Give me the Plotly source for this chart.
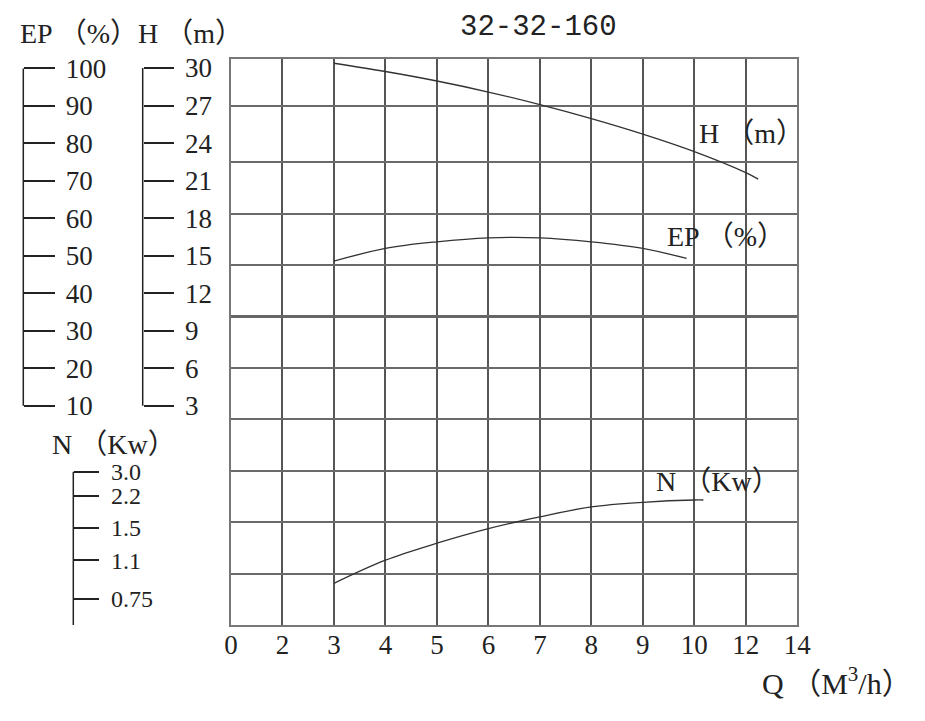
import numpy as np
import plotly.graph_objects as go

# ---------------- data ----------------
q_ticks = [0, 2, 3, 4, 5, 6, 7, 8, 9, 10, 12, 14]
q_tick_text = [str(v) for v in q_ticks]

h_ticks = [3, 6, 9, 12, 15, 18, 21, 24, 27, 30]
ep_ticks = [10, 20, 30, 40, 50, 60, 70, 80, 90, 100]
n_scale_kw = [0.75, 1.1, 1.5, 2.2, 3.0]
n_tick_text = ["0.75", "1.1", "1.5", "2.2", "3.0"]
n_scale_rows = [0.51, 1.26, 1.89, 2.51, 2.98]   # where each kW mark sits on the grid rows

q_h = [3, 4, 5, 6, 7, 8, 9, 10, 12, 12.48]
h_m = [30.38, 29.72, 28.96, 28.08, 27.08, 25.96, 24.72, 23.32, 21.64, 21.12]

q_ep = [3, 4, 5, 6, 7, 8, 9, 9.85]
ep_pct = [48.6, 52.0, 53.75, 54.8, 54.8, 53.75, 52.0, 49.3]

q_n = [3, 4, 5, 6, 7, 8, 9, 10, 10.35]
n_kw = [0.89, 1.10, 1.31, 1.49, 1.74, 1.96, 2.06, 2.11, 2.11]

# ---------------- helpers ----------------
W, H = 925, 721
def qpos(q):
    return np.interp(q, q_ticks, np.arange(len(q_ticks)))
def nrow(v):
    return np.interp(v, n_scale_kw, n_scale_rows)
def px(x):
    return x / W
def py(y):
    return 1 - y / H

SERIF = "Liberation Serif, Noto Sans CJK SC, serif"
MONO = "Liberation Mono, monospace"
INK = "#222222"
CURVE = "#333333"

fig = go.Figure()
fig.add_trace(go.Scatter(x=qpos(q_h), y=h_m, yaxis="y2", mode="lines",
                         line=dict(color=CURVE, width=1.3, shape="spline"),
                         showlegend=False, hoverinfo="skip"))
fig.add_trace(go.Scatter(x=qpos(q_ep), y=ep_pct, yaxis="y3", mode="lines",
                         line=dict(color=CURVE, width=1.3, shape="spline"),
                         showlegend=False, hoverinfo="skip"))
fig.add_trace(go.Scatter(x=qpos(q_n), y=nrow(n_kw), yaxis="y4", mode="lines",
                         line=dict(color=CURVE, width=1.3, shape="spline"),
                         showlegend=False, hoverinfo="skip"))

x0, x1 = px(231), px(797.3)
y0, y1 = py(625), py(59.3)

layout = dict(
    width=W, height=H,
    margin=dict(l=0, r=0, t=0, b=0, autoexpand=False),
    paper_bgcolor="white", plot_bgcolor="white",
    showlegend=False,
    font=dict(family=SERIF, color=INK, size=27),
    xaxis=dict(domain=[x0, x1], range=[0, len(q_ticks) - 1],
               tickmode="array", tickvals=list(range(len(q_ticks))), ticktext=q_tick_text,
               showgrid=True, gridcolor="#555555", gridwidth=1.5,
               showline=True, mirror=True, linecolor="#777777", linewidth=2,
               zeroline=False, ticks="", ticklabelstandoff=-5,
               tickfont=dict(family=SERIF, size=27, color=INK), fixedrange=True),
    yaxis=dict(domain=[y0, y1], range=[0, 11],
               tickmode="array", tickvals=[1, 2, 3, 4, 5, 6, 7, 8, 9, 10.1],
               showticklabels=False, ticks="",
               showgrid=True, gridcolor="#6a6a6a", gridwidth=1.6,
               showline=True, mirror=True, linecolor="#777777", linewidth=2,
               zeroline=False, fixedrange=True),
    yaxis2=dict(overlaying="y", anchor="free", position=px(142.7), side="right",
                range=[-14.534, 30.696], tickmode="array", tickvals=h_ticks,
                ticks="outside", ticklen=30, tickwidth=1.5, tickcolor=INK,
                showgrid=False, zeroline=False, showline=False,
                ticklabelstandoff=6, tickfont=dict(family=SERIF, size=27, color=INK),
                fixedrange=True),
    yaxis3=dict(overlaying="y", anchor="free", position=px(23.3), side="right",
                range=[-48.5, 102.45], tickmode="array", tickvals=ep_ticks,
                ticks="outside", ticklen=31, tickwidth=1.5, tickcolor=INK,
                showgrid=False, zeroline=False, showline=False,
                ticklabelstandoff=5, tickfont=dict(family=SERIF, size=27, color=INK),
                fixedrange=True),
    yaxis4=dict(overlaying="y", anchor="free", position=px(73.3), side="right",
                range=[0, 11], tickmode="array", tickvals=n_scale_rows, ticktext=n_tick_text,
                ticks="outside", ticklen=25, tickwidth=1.5, tickcolor=INK,
                showgrid=False, zeroline=False, showline=False,
                ticklabelstandoff=7, tickfont=dict(family=SERIF, size=24, color=INK),
                fixedrange=True),
)
fig.update_layout(**layout)

# scale spines and the heavy mid line
shapes = [
    dict(type="line", xref="paper", yref="y2", x0=px(142.7), x1=px(142.7),
         y0=min(h_ticks), y1=max(h_ticks), line=dict(color=INK, width=1.5)),
    dict(type="line", xref="paper", yref="y3", x0=px(23.3), x1=px(23.3),
         y0=min(ep_ticks), y1=max(ep_ticks), line=dict(color=INK, width=1.5)),
    dict(type="line", xref="paper", yref="y4", x0=px(73.3), x1=px(73.3),
         y0=0, y1=max(n_scale_rows), line=dict(color=INK, width=1.5)),
    dict(type="line", xref="x domain", yref="y", x0=0, x1=1, y0=6, y1=6,
         line=dict(color="#666666", width=3)),
]
fig.update_layout(shapes=shapes)

def label(text, x, y, size=27, anchor="left", family=SERIF):
    return dict(text=text, xref="paper", yref="paper", x=px(x), y=py(y),
                xanchor=anchor, yanchor="middle", showarrow=False,
                font=dict(family=family, size=size, color=INK))

fig.update_layout(annotations=[
    label("32-32-160", 538, 28, size=29, anchor="center", family=MONO),
    label("EP （%）H （m）", 18, 34, size=28),
    label("N （Kw）", 50, 445, size=28),
    label("H （m）", 697, 133, size=28),
    label("EP （%）", 665, 236, size=28),
    label("N （Kw）", 654, 481, size=28),
    label("Q （M<sup>3</sup>/h）", 760, 681, size=30),
])

fig.write_html("out.html")
